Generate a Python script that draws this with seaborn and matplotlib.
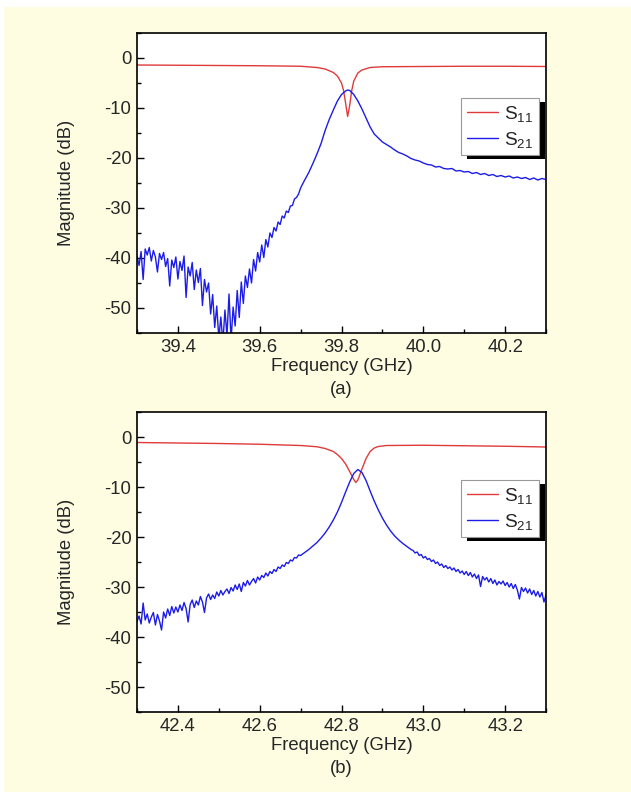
import pandas as pd
import matplotlib
matplotlib.use("Agg")
import matplotlib.pyplot as plt
from matplotlib.patches import Rectangle
from matplotlib.ticker import MultipleLocator
import seaborn as sns

# ---- panel (a): resonator near 39.8 GHz ----
freq_a_s11 = [39.30, 39.40, 39.50, 39.60, 39.70, 39.74, 39.76, 39.78, 39.79, 39.80,
              39.805, 39.81, 39.815, 39.82, 39.825, 39.83, 39.84, 39.85, 39.87, 39.90,
              40.00, 40.10, 40.20, 40.30]
mag_a_s11 = [-1.4, -1.45, -1.5, -1.55, -1.65, -1.9, -2.2, -2.9, -3.6, -5.0,
             -6.5, -9.0, -11.7, -9.5, -6.5, -4.6, -3.0, -2.4, -1.9, -1.75,
             -1.7, -1.65, -1.65, -1.7]

freq_a_s21 = [39.300, 39.305, 39.310, 39.315, 39.320, 39.325, 39.330, 39.335, 39.340, 39.345,
              39.350, 39.355, 39.360, 39.365, 39.370, 39.375, 39.380, 39.385, 39.390, 39.395,
              39.400, 39.405, 39.410, 39.415, 39.420, 39.425, 39.430, 39.435, 39.440, 39.445,
              39.450, 39.455, 39.460, 39.465, 39.470, 39.475, 39.480, 39.485, 39.490, 39.495,
              39.500, 39.505, 39.510, 39.515, 39.520, 39.525, 39.530, 39.535, 39.540, 39.545,
              39.550, 39.555, 39.560, 39.565, 39.570, 39.575, 39.580, 39.585, 39.590, 39.595,
              39.600, 39.605, 39.610, 39.615, 39.620, 39.625, 39.630, 39.635, 39.640, 39.645,
              39.650, 39.655, 39.660, 39.665, 39.670, 39.675, 39.680, 39.685, 39.690, 39.695,
              39.700, 39.710, 39.720, 39.730, 39.740, 39.750, 39.760, 39.770, 39.780, 39.790,
              39.800, 39.810, 39.815, 39.820, 39.830, 39.840, 39.850, 39.860, 39.870, 39.880,
              39.890, 39.900, 39.910, 39.920, 39.930, 39.940, 39.950, 39.960, 39.970, 39.980,
              39.990, 40.000, 40.010, 40.020, 40.030, 40.040, 40.050, 40.060, 40.070, 40.080,
              40.090, 40.100, 40.110, 40.120, 40.130, 40.140, 40.150, 40.160, 40.170, 40.180,
              40.190, 40.200, 40.210, 40.220, 40.230, 40.240, 40.250, 40.260, 40.270, 40.280,
              40.290, 40.300]
mag_a_s21 = [-39.6, -41.5, -38.7, -44.3, -38.2, -39.4, -37.9, -40.6, -38.5, -39.8,
             -42.8, -39.1, -40.3, -38.9, -41.7, -40.1, -45.6, -40.4, -41.9, -39.8,
             -44.2, -40.7, -42.5, -39.6, -47.9, -41.8, -43.6, -40.9, -46.3, -42.4,
             -44.9, -42.1, -49.5, -44.3, -46.8, -45.0, -51.2, -47.3, -53.9, -49.6,
             -56.0, -51.8, -57.0, -50.4, -55.5, -47.2, -56.5, -49.8, -53.6, -46.5,
             -51.9, -44.8, -49.1, -43.6, -45.9, -42.2, -45.0, -40.3, -42.6, -38.9,
             -40.8, -37.4, -39.9, -36.3, -37.8, -35.0, -35.9, -33.9, -34.6, -32.8,
             -33.3, -31.6, -32.0, -30.6, -30.9, -29.6, -29.5, -28.2, -27.9, -27.2,
             -26.0, -24.4, -22.9, -21.1, -19.2, -17.1, -14.5, -12.3, -10.4, -8.6,
             -7.3, -6.6, -6.4, -6.5, -7.3, -8.6, -10.2, -12.0, -13.8, -15.2,
             -16.0, -16.8, -17.3, -17.8, -18.4, -18.9, -19.2, -19.6, -20.1, -20.4,
             -20.6, -21.0, -21.3, -21.4, -21.8, -21.7, -22.1, -22.2, -22.1, -22.6,
             -22.5, -22.8, -22.7, -23.1, -22.9, -23.3, -23.1, -23.5, -23.3, -23.7,
             -23.5, -23.8, -23.6, -24.0, -23.8, -24.1, -23.9, -24.3, -24.0, -24.4,
             -24.1, -24.3]

# ---- panel (b): resonator near 42.8 GHz ----
freq_b_s11 = [42.30, 42.40, 42.50, 42.60, 42.70, 42.74, 42.76, 42.78, 42.79, 42.80,
              42.81, 42.82, 42.83, 42.835, 42.84, 42.85, 42.86, 42.87, 42.88, 42.89,
              42.91, 43.00, 43.10, 43.20, 43.30]
mag_b_s11 = [-1.1, -1.2, -1.3, -1.45, -1.7, -1.95, -2.3, -2.9, -3.5, -4.3,
             -5.4, -6.9, -8.5, -9.1, -8.6, -6.4, -4.3, -2.9, -2.2, -1.9,
             -1.7, -1.65, -1.75, -1.85, -2.0]

freq_b_s21 = [42.300, 42.305, 42.310, 42.315, 42.320, 42.325, 42.330, 42.335, 42.340, 42.345,
              42.350, 42.355, 42.360, 42.365, 42.370, 42.375, 42.380, 42.385, 42.390, 42.395,
              42.400, 42.405, 42.410, 42.415, 42.420, 42.425, 42.430, 42.435, 42.440, 42.445,
              42.450, 42.455, 42.460, 42.465, 42.470, 42.475, 42.480, 42.485, 42.490, 42.495,
              42.500, 42.505, 42.510, 42.515, 42.520, 42.525, 42.530, 42.535, 42.540, 42.545,
              42.550, 42.555, 42.560, 42.565, 42.570, 42.575, 42.580, 42.585, 42.590, 42.595,
              42.600, 42.605, 42.610, 42.615, 42.620, 42.625, 42.630, 42.635, 42.640, 42.645,
              42.650, 42.655, 42.660, 42.665, 42.670, 42.675, 42.680, 42.685, 42.690, 42.695,
              42.700, 42.710, 42.720, 42.730, 42.740, 42.750, 42.760, 42.770, 42.780, 42.790,
              42.800, 42.810, 42.820, 42.830, 42.840, 42.850, 42.860, 42.870, 42.880, 42.890,
              42.900, 42.910, 42.920, 42.930, 42.940, 42.950, 42.960, 42.970, 42.975, 42.980,
              42.985, 42.990, 42.995, 43.000, 43.005, 43.010, 43.015, 43.020, 43.025, 43.030,
              43.035, 43.040, 43.045, 43.050, 43.055, 43.060, 43.065, 43.070, 43.075, 43.080,
              43.085, 43.090, 43.095, 43.100, 43.105, 43.110, 43.115, 43.120, 43.125, 43.130,
              43.135, 43.140, 43.145, 43.150, 43.155, 43.160, 43.165, 43.170, 43.175, 43.180,
              43.185, 43.190, 43.195, 43.200, 43.205, 43.210, 43.215, 43.220, 43.225, 43.230,
              43.235, 43.240, 43.245, 43.250, 43.255, 43.260, 43.265, 43.270, 43.275, 43.280,
              43.285, 43.290, 43.295, 43.300]
mag_b_s21 = [-36.9, -35.8, -37.4, -33.2, -36.6, -35.4, -37.2, -36.0, -35.1, -37.6,
             -35.5, -36.8, -38.6, -35.0, -36.2, -34.4, -35.7, -33.9, -35.2, -34.0,
             -35.0, -33.6, -34.7, -33.1, -34.3, -37.0, -33.5, -32.6, -34.1, -32.8,
             -33.6, -31.9, -33.0, -35.1, -32.2, -31.4, -32.5, -31.6, -32.3, -31.0,
             -31.8, -30.7, -31.6, -30.9, -30.4, -31.3, -30.1, -30.8, -29.6, -30.5,
             -29.4, -30.9, -29.1, -29.8, -28.7, -29.6, -28.9, -28.3, -29.2, -28.0,
             -28.6, -27.7, -28.1, -27.2, -27.8, -26.9, -27.3, -26.5, -26.9, -26.0,
             -26.3, -25.6, -25.9, -25.1, -25.3, -24.6, -24.8, -24.1, -24.2, -23.6,
             -23.7, -23.1, -22.5, -21.8, -21.1, -20.2, -19.2, -18.0, -16.6, -15.0,
             -13.1, -11.0, -9.0, -7.3, -6.5, -7.1, -8.7, -10.8, -12.8, -14.6,
             -16.2, -17.6, -18.8, -19.8, -20.6, -21.3, -21.9, -22.5, -22.7, -23.2,
             -23.0, -23.7, -23.5, -24.2, -23.9, -24.5, -24.3, -24.9, -24.6, -25.3,
             -25.0, -25.7, -25.4, -26.1, -25.7, -26.3, -26.0, -26.6, -26.2, -26.9,
             -26.5, -27.2, -26.8, -27.5, -26.9, -27.7, -27.1, -28.0, -27.4, -28.3,
             -27.6, -29.9, -27.9, -28.6, -28.1, -29.0, -28.3, -29.3, -28.6, -29.6,
             -28.9, -29.4, -28.8, -29.7, -29.1, -30.0, -29.3, -30.3, -29.5, -30.6,
             -32.4, -30.1, -30.9, -30.2, -31.2, -30.4, -31.5, -30.7, -31.8, -30.9,
             -32.0, -31.1, -33.0, -31.6]

panel_names = ["(a)", "(b)"]
xticks_a = [39.4, 39.6, 39.8, 40.0, 40.2]
xticks_b = [42.4, 42.6, 42.8, 43.0, 43.2]

sns.set_theme(style="ticks")
plt.rcParams["font.family"] = ["Liberation Sans", "DejaVu Sans"]
plt.rcParams["mathtext.default"] = "regular"
plt.rcParams["axes.unicode_minus"] = False

FS = 13.3
RED = "#E03A3A"
BLUE = "#1C1CE8"

fig = plt.figure(figsize=(6.31, 7.92), dpi=100, facecolor="white")
fig.patches.append(Rectangle((4 / 631, 0), 1, 1 - 7 / 792, transform=fig.transFigure,
                             facecolor="#FEFDE2", edgecolor="none", zorder=-10))

ax_a = fig.add_axes([137 / 631, 1 - 333 / 792, 409 / 631, 300 / 792])
ax_b = fig.add_axes([137 / 631, 1 - 712 / 792, 409 / 631, 300 / 792])

panels = [
    (ax_a, freq_a_s11, mag_a_s11, freq_a_s21, mag_a_s21, xticks_a, (39.3, 40.3), 0.783),
    (ax_b, freq_b_s11, mag_b_s11, freq_b_s21, mag_b_s21, xticks_b, (42.3, 43.3), 0.773),
]

for (ax, f11, m11, f21, m21, xt, xl, leg_y), name in zip(panels, panel_names):
    df11 = pd.DataFrame({"freq": f11, "mag": m11})
    df21 = pd.DataFrame({"freq": f21, "mag": m21})
    sns.lineplot(data=df11, x="freq", y="mag", ax=ax, color=RED, lw=1.0,
                 sort=False, estimator=None, label=r"S$_{11}$")
    sns.lineplot(data=df21, x="freq", y="mag", ax=ax, color=BLUE, lw=1.0,
                 sort=False, estimator=None, label=r"S$_{21}$")

    ax.set_facecolor("white")
    ax.set_xlim(*xl)
    ax.set_ylim(-55, 5)
    ax.set_xticks(xt)
    ax.set_xticklabels([f"{v:.1f}" for v in xt])
    ax.set_yticks([0, -10, -20, -30, -40, -50])
    ax.xaxis.set_minor_locator(MultipleLocator(0.1))
    ax.yaxis.set_minor_locator(MultipleLocator(5))
    ax.tick_params(which="both", direction="in", labelsize=FS, color="black",
                   width=1.0, top=False, right=False, pad=4)
    ax.tick_params(which="major", length=5)
    ax.tick_params(which="minor", length=3)
    for sp in ax.spines.values():
        sp.set_visible(True)
        sp.set_color("black")
        sp.set_linewidth(1.2)

    ax.set_xlabel("Frequency (GHz)", fontsize=FS)
    ax.set_ylabel("Magnitude (dB)", fontsize=FS)
    ax.xaxis.set_label_coords(0.5, -0.085)
    ax.yaxis.set_label_coords(-0.152, 0.5)
    ax.text(0.5, -0.16, name, transform=ax.transAxes, ha="center", va="top", fontsize=FS)

    leg = ax.legend(loc="upper right", bbox_to_anchor=(0.983, leg_y), fontsize=FS + 0.5,
                    frameon=True, fancybox=False, framealpha=1, edgecolor="#999999",
                    handlelength=1.65, handletextpad=0.3, labelspacing=0.3,
                    borderpad=0.3, borderaxespad=0)
    leg.get_frame().set_linewidth(0.8)
    for line in leg.get_lines():
        line.set_linewidth(1.0)

# black drop shadow behind each legend box
fig.canvas.draw()
for ax in (ax_a, ax_b):
    leg = ax.get_legend()
    bb = leg.get_window_extent().transformed(ax.transAxes.inverted())
    dx = 6 / 409
    dy = 4 / 300
    ax.add_patch(Rectangle((bb.x0 + dx, bb.y0 - dy), bb.width, bb.height,
                           transform=ax.transAxes, facecolor="black", edgecolor="none",
                           clip_on=False, zorder=4.9))

fig.savefig("out.png", dpi=100, facecolor=fig.get_facecolor())
